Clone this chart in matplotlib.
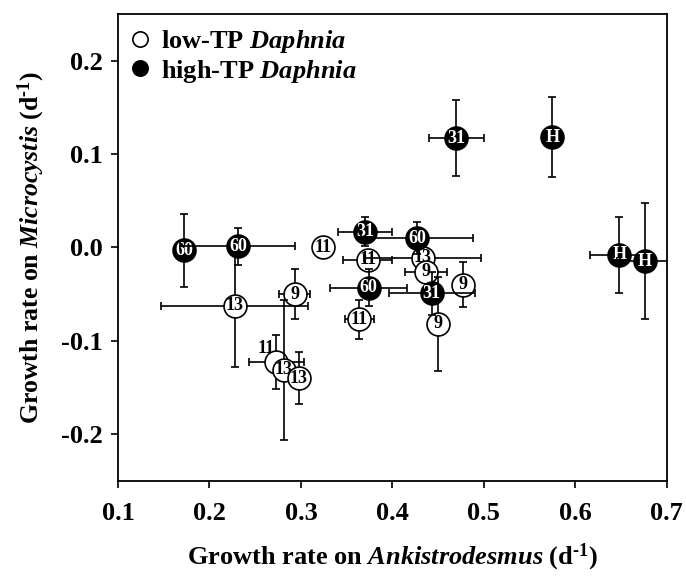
import matplotlib
matplotlib.use("Agg")
import matplotlib.pyplot as plt
from matplotlib.lines import Line2D

plt.rcParams['font.family'] = ['Liberation Serif', 'DejaVu Serif']
plt.rcParams['font.weight'] = 'bold'
plt.rcParams['axes.labelweight'] = 'bold'
plt.rcParams['mathtext.fontset'] = 'custom'
plt.rcParams['mathtext.rm'] = 'Liberation Serif:bold'
plt.rcParams['mathtext.bf'] = 'Liberation Serif:bold'
plt.rcParams['mathtext.it'] = 'Liberation Serif:bold:italic'

# low-TP Daphnia (open circles)
low_x = [0.324, 0.373, 0.433, 0.437, 0.477, 0.364, 0.450, 0.2275, 0.293, 0.273, 0.281, 0.2975]
low_y = [0.000, -0.013, -0.011, -0.026, -0.040, -0.077, -0.082, -0.0625, -0.050, -0.1225, -0.131, -0.140]
low_xerr = [0.0, 0.027, 0.064, 0.023, 0.0, 0.016, 0.0, 0.080, 0.017, 0.030, 0.0, 0.006]
low_yerr = [0.0, 0.0, 0.0, 0.0, 0.024, 0.021, 0.050, 0.066, 0.027, 0.029, 0.075, 0.028]
low_lab = ['11', '11', '13', '9', '9', '11', '9', '13', '9', '', '13', '13']

# high-TP Daphnia (filled circles)
high_x = [0.172, 0.231, 0.370, 0.427, 0.374, 0.443, 0.470, 0.575, 0.648, 0.676]
high_y = [-0.003, 0.001, 0.017, 0.010, -0.043, -0.049, 0.117, 0.118, -0.008, -0.015]
high_xerr = [0.0, 0.063, 0.030, 0.061, 0.042, 0.047, 0.030, 0.0, 0.032, 0.030]
high_yerr = [0.039, 0.020, 0.015, 0.017, 0.020, 0.023, 0.041, 0.043, 0.041, 0.062]
high_lab = ['60', '60', '31', '60', '60', '31', '31', 'H', 'H', 'H']

fig = plt.figure(figsize=(6.86, 5.78), dpi=100)
ax = fig.add_axes([0.172, 0.168, 0.8, 0.808])

ms = 16.5
z = 3
for x, y, xe, ye, lab in zip(low_x, low_y, low_xerr, low_yerr, low_lab):
    ax.errorbar(x, y, xerr=xe if xe else None, yerr=ye if ye else None, fmt='none',
                ecolor='black', elinewidth=1.2, capsize=2.8, capthick=1.2, zorder=z)
    ax.plot(x, y, 'o', ms=ms, mfc='white', mec='black', mew=1.2, zorder=z + 1)
    ax.text(x, y, lab, ha='center', va='center', fontsize=13, color='black', zorder=z + 2)
    z += 3

# the hidden "11" label, written beside its circle
ax.text(0.271, -0.108, '11', ha='right', va='center', fontsize=13, color='black')

for x, y, xe, ye, lab in zip(high_x, high_y, high_xerr, high_yerr, high_lab):
    ax.errorbar(x, y, xerr=xe if xe else None, yerr=ye if ye else None, fmt='none',
                ecolor='black', elinewidth=1.2, capsize=2.8, capthick=1.2, zorder=z)
    ax.plot(x, y, 'o', ms=ms, mfc='black', mec='black', mew=1.2, zorder=z + 1)
    ax.text(x, y, lab, ha='center', va='center', fontsize=13, color='white', zorder=z + 2)
    z += 3

ax.set_xlim(0.1, 0.7)
ax.set_ylim(-0.25, 0.25)
ax.set_xticks([0.1, 0.2, 0.3, 0.4, 0.5, 0.6, 0.7])
ax.set_yticks([-0.2, -0.1, 0.0, 0.1, 0.2])
ax.set_xticklabels(['0.1', '0.2', '0.3', '0.4', '0.5', '0.6', '0.7'])
ax.set_yticklabels(['-0.2', '-0.1', '0.0', '0.1', '0.2'])
ax.tick_params(direction='out', length=5, width=1.2, labelsize=19, pad=6)
ax.tick_params(axis='x', pad=10)
for s in ax.spines.values():
    s.set_linewidth(1.3)

ax.set_xlabel('Growth rate on $\\mathit{Ankistrodesmus}$ (d$^{\u20101}$)', fontsize=19, labelpad=12)
ax.set_ylabel('Growth rate on $\\mathit{Microcystis}$ (d$^{\u20101}$)', fontsize=18.5, labelpad=10)

handles = [Line2D([], [], ls='none', marker='o', ms=11, mfc='white', mec='black', mew=1.2),
           Line2D([], [], ls='none', marker='o', ms=11, mfc='black', mec='black', mew=1.2)]
ax.legend(handles, [r'low-TP $\mathit{Daphnia}$', r'high-TP $\mathit{Daphnia}$'],
          loc='upper left', frameon=False, fontsize=19, handletextpad=0.3,
          borderaxespad=0.1, labelspacing=0.1, handlelength=1.0, borderpad=0.35,
          bbox_to_anchor=(-0.005, 0.995))

fig.savefig('out.png', dpi=100)
